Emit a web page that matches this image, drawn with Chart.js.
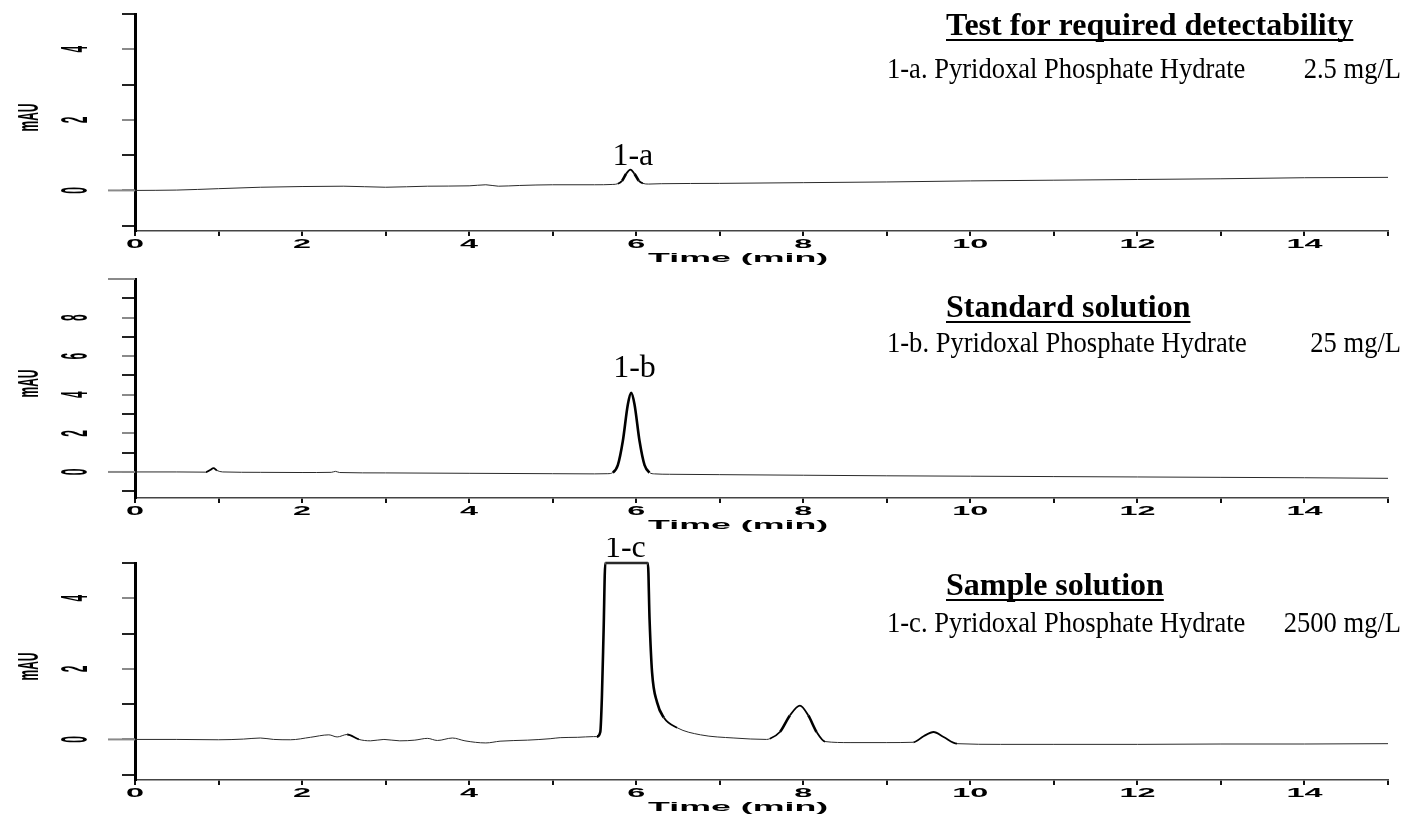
<!DOCTYPE html>
<html>
<head>
<meta charset="utf-8">
<script src="https://cdn.jsdelivr.net/npm/chart.js@4.4.1/dist/chart.umd.min.js"></script>
<style>
  html, body { margin: 0; padding: 0; background: #fff; overflow: hidden; }
  #wrap { position: relative; width: 1426px; height: 814px; }
  canvas { position: absolute; left: 0; }
</style>
</head>
<body>
<div id="wrap">
  <canvas id="chartA" width="1426" height="272" style="top:0px"></canvas>
  <canvas id="chartB" width="1426" height="266" style="top:272px"></canvas>
  <canvas id="chartC" width="1426" height="276" style="top:538px"></canvas>
</div>
<script>
// Axis labels
const xTickLabels = [0, 2, 4, 6, 8, 10, 12, 14];
const yTickLabelsA = [0, 2, 4];
const yTickLabelsB = [0, 2, 4, 6, 8];
const yTickLabelsC = [0, 2, 4];

// Trace A - test for required detectability (min / mAU)
const timesA = [0, 0.5, 1, 1.5, 2, 2.5, 3, 3.5, 4, 4.2, 4.35, 4.6, 5, 5.5, 5.72, 5.78, 5.83, 5.88, 5.93, 5.98, 6.03, 6.08, 6.15, 6.3, 7, 8, 9, 10, 11, 12, 13, 14, 15];
const signalA = [0, 0.01, 0.05, 0.09, 0.11, 0.12, 0.09, 0.12, 0.13, 0.16, 0.12, 0.14, 0.16, 0.16, 0.17, 0.19, 0.27, 0.47, 0.59, 0.47, 0.28, 0.2, 0.18, 0.19, 0.2, 0.22, 0.24, 0.27, 0.29, 0.31, 0.33, 0.36, 0.37];

// Trace B - standard solution
const timesB = [0, 0.5, 0.85, 0.9, 0.94, 0.98, 1.05, 1.5, 2, 2.35, 2.4, 2.45, 3, 4, 5, 5.5, 5.66, 5.72, 5.78, 5.84, 5.9, 5.94, 5.98, 6.04, 6.1, 6.16, 6.22, 6.4, 7, 8, 9, 10, 11, 12, 13, 14, 15];
const signalB = [0, 0, -0.01, 0.1, 0.2, 0.08, 0, -0.02, -0.03, -0.02, 0.03, -0.03, -0.05, -0.07, -0.09, -0.1, -0.09, -0.03, 0.35, 1.6, 3.5, 4.1, 3.5, 1.6, 0.35, -0.03, -0.1, -0.12, -0.14, -0.17, -0.2, -0.22, -0.24, -0.26, -0.28, -0.3, -0.33];

// Trace C - sample solution (main peak off scale at 5 mAU)
const timesC = [0, 0.5, 1, 1.3, 1.5, 1.66, 1.86, 2.1, 2.32, 2.42, 2.54, 2.68, 2.82, 2.98, 3.17, 3.35, 3.5, 3.62, 3.8, 3.95, 4.2, 4.37, 4.7, 4.97, 5.09, 5.3, 5.49, 5.53, 5.57, 5.59, 5.61, 5.63, 5.8, 6.0, 6.14, 6.16, 6.19, 6.25, 6.33, 6.49, 6.77, 7.17, 7.56, 7.6, 7.72, 7.84, 7.96, 8.06, 8.16, 8.26, 8.56, 9.0, 9.32, 9.44, 9.56, 9.68, 9.84, 10.36, 11, 12, 13, 14, 15];
const signalC = [0, 0, -0.01, 0.01, 0.04, 0.0, -0.01, 0.06, 0.13, 0.07, 0.14, 0.0, -0.04, 0.0, -0.04, -0.02, 0.03, -0.03, 0.04, -0.04, -0.1, -0.05, -0.02, 0.02, 0.05, 0.06, 0.08, 0.08, 0.21, 1.25, 3.1, 5.0, 5.0, 5.0, 5.0, 3.4, 1.9, 1.05, 0.62, 0.33, 0.13, 0.04, 0.0, 0.02, 0.21, 0.68, 0.96, 0.68, 0.21, -0.06, -0.09, -0.09, -0.08, 0.09, 0.21, 0.07, -0.12, -0.14, -0.14, -0.14, -0.13, -0.13, -0.12];

// Annotations
const panelTitles = ['Test for required detectability', 'Standard solution', 'Sample solution'];
const compoundNames = ['1-a. Pyridoxal Phosphate Hydrate', '1-b. Pyridoxal Phosphate Hydrate', '1-c. Pyridoxal Phosphate Hydrate'];
const concentrations = ['2.5 mg/L', '25 mg/L', '2500 mg/L'];
const peakLabels = ['1-a', '1-b', '1-c'];
const peakLabelTimes = [5.96, 5.98, 5.87];
const peakLabelLevels = [0.71, 4.92, 5.16];

const SANS = '"Liberation Sans", Arial, sans-serif';
const SERIF = '"Liberation Serif", "Times New Roman", serif';

// draws text squeezed/stretched like the scanned instrument printout
function stretchText(ctx, text, x, y, sx, angle, font, align = 'center', baseline = 'middle') {
    ctx.save();
    ctx.translate(x, y);
    ctx.scale(sx, 1);
    ctx.rotate(angle);
    ctx.font = font;
    ctx.textAlign = align;
    ctx.textBaseline = baseline;
    ctx.fillText(text, 0, 0);
    ctx.restore();
}

const printoutPlugin = {
    id: 'printout',
    afterDraw(chart, args, o) {
        const ctx = chart.ctx;
        const area = chart.chartArea;
        const xs = chart.scales.x;
        const ys = chart.scales.y;
        ctx.save();
        ctx.fillStyle = '#000';

        // long grey reference marks on the y axis
        ctx.strokeStyle = '#8a8a8a';
        ctx.lineWidth = 2;
        o.longTicks.forEach(v => {
            const y = ys.getPixelForValue(v);
            ctx.beginPath();
            ctx.moveTo(area.left - 27, y);
            ctx.lineTo(area.left, y);
            ctx.stroke();
        });

        // axis text
        xTickLabels.forEach(v => {
            stretchText(ctx, String(v), xs.getPixelForValue(v), area.bottom + 14, 2.7, 0, 'bold 12px ' + SANS);
        });
        stretchText(ctx, 'Time (min)', xs.getPixelForValue(7.22), area.bottom + 27, 2.75, 0, 'bold 13px ' + SANS);
        o.yTicks.forEach(v => {
            stretchText(ctx, String(v), 77, ys.getPixelForValue(v), 3.0, -Math.PI / 2, 'bold 12px ' + SANS);
        });
        stretchText(ctx, 'mAU', 30, (area.top + area.bottom) / 2 - 5, 2.4, -Math.PI / 2, 'bold 12px ' + SANS);

        // peak name above the peak
        stretchText(ctx, o.peak, xs.getPixelForValue(o.peakTime), ys.getPixelForValue(o.peakLevel), 1, 0, '32px ' + SERIF, 'center', 'alphabetic');

        // heading, underlined
        ctx.font = 'bold 32px ' + SERIF;
        ctx.textAlign = 'left';
        ctx.textBaseline = 'alphabetic';
        ctx.fillText(o.title, 946, o.titleY);
        const w = ctx.measureText(o.title).width;
        ctx.fillRect(946, o.titleY + 4, w, 2);

        // compound + concentration
        stretchText(ctx, o.compound, 887, o.subY, 0.885, 0, '30px ' + SERIF, 'left', 'alphabetic');
        stretchText(ctx, o.conc, 1401, o.subY, 0.885, 0, '30px ' + SERIF, 'right', 'alphabetic');
        ctx.restore();
    }
};

function makePanel(id, times, values, p) {
    const points = times.map((t, i) => ({ x: t, y: values[i] }));
    return new Chart(document.getElementById(id), {
        type: 'line',
        data: {
            datasets: [{
                data: points,
                borderColor: '#2a2a2a',
                borderWidth: 1,
                pointRadius: 0,
                cubicInterpolationMode: 'monotone',
                clip: false,
                segment: {
                    // steep flanks and the clipped top print heavier
                    borderWidth: c => {
                        const dx = Math.abs(c.p1.x - c.p0.x) || 1;
                        const dy = Math.abs(c.p1.y - c.p0.y);
                        const top = values[c.p0DataIndex] >= p.yMax && values[c.p1DataIndex] >= p.yMax;
                        if (dy / dx > 1.2 || top) return 2.6;
                        if (dy / dx > 0.4) return 1.8;
                        return 1;
                    },
                    borderColor: c => {
                        const dx = Math.abs(c.p1.x - c.p0.x) || 1;
                        return Math.abs(c.p1.y - c.p0.y) / dx > 0.4 ? '#000' : '#2a2a2a';
                    }
                }
            }]
        },
        options: {
            responsive: false,
            animation: false,
            events: [],
            layout: { padding: { left: 135, right: 38, top: p.padTop, bottom: p.padBottom } },
            plugins: {
                legend: { display: false },
                tooltip: { enabled: false },
                printout: p.text
            },
            scales: {
                x: {
                    type: 'linear',
                    min: 0,
                    max: 15,
                    afterFit: s => { s.height = 0; },
                    ticks: { display: false, stepSize: 1, includeBounds: false },
                    grid: { display: true, drawOnChartArea: false, drawTicks: true, tickLength: 5, color: '#111', lineWidth: 2 },
                    border: { display: true, color: '#444', width: 1.5 }
                },
                y: {
                    min: p.yMin,
                    max: p.yMax,
                    afterFit: s => { s.width = 0; },
                    ticks: { display: false, stepSize: 1, includeBounds: false },
                    grid: {
                        display: true,
                        drawOnChartArea: false,
                        drawTicks: true,
                        tickLength: 13,
                        lineWidth: 2,
                        color: c => (c.tick && c.tick.value % 2 === 0) ? '#8a8a8a' : '#222'
                    },
                    border: { display: true, color: '#000', width: 3 }
                }
            }
        },
        plugins: [printoutPlugin]
    });
}

function panelText(i, yTicks, longTicks, titleY, subY) {
    return {
        yTicks: yTicks,
        longTicks: longTicks,
        peak: peakLabels[i],
        peakTime: peakLabelTimes[i],
        peakLevel: peakLabelLevels[i],
        title: panelTitles[i],
        compound: compoundNames[i],
        conc: concentrations[i],
        titleY: titleY,
        subY: subY
    };
}

makePanel('chartA', timesA, signalA, { yMin: -1.15, yMax: 5, padTop: 14, padBottom: 41, text: panelText(0, yTickLabelsA, [0], 35, 78) });
makePanel('chartB', timesB, signalB, { yMin: -1.35, yMax: 10, padTop: 7, padBottom: 40, text: panelText(1, yTickLabelsB, [0, 10], 45, 80) });
makePanel('chartC', timesC, signalC, { yMin: -1.15, yMax: 5, padTop: 25, padBottom: 34, text: panelText(2, yTickLabelsC, [0], 57, 94) });
</script>
</body>
</html>
